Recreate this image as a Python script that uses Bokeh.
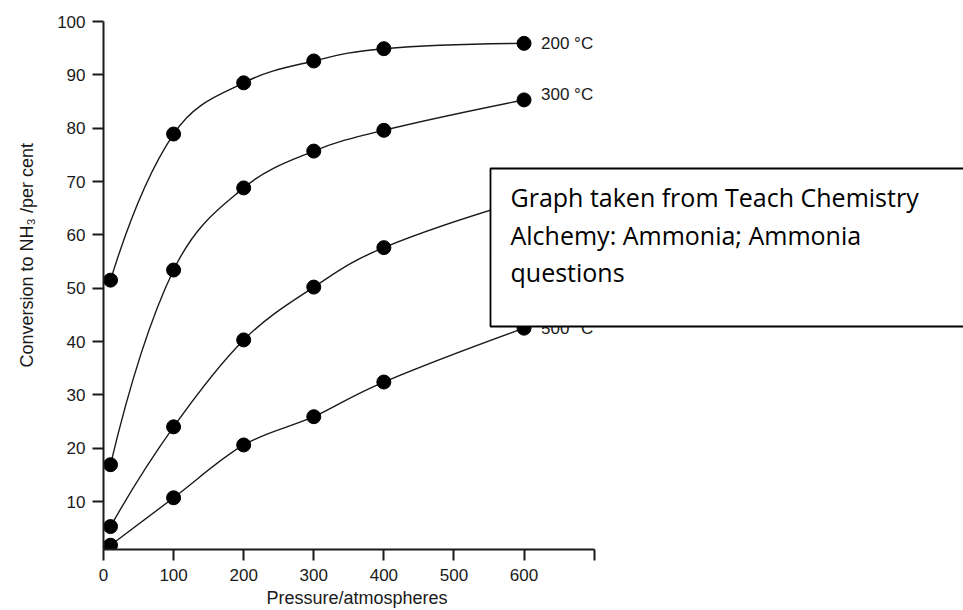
import numpy as np
from bokeh.plotting import figure
from bokeh.models import (Range1d, FixedTicker, BoxAnnotation, Label, Title,
                          ColumnDataSource)
from bokeh.embed import file_html
from bokeh.resources import INLINE
from bokeh.core.properties import value

# ---------------- data ----------------
pressure = [10, 100, 200, 300, 400, 600]
conv_200 = [51.5, 78.9, 88.5, 92.6, 94.9, 95.9]
conv_300 = [16.9, 53.4, 68.8, 75.7, 79.6, 85.3]
conv_400 = [5.3, 24.0, 40.3, 50.2, 57.6, 66.5]
conv_500 = [1.8, 10.7, 20.6, 25.9, 32.4, 42.5]
series_labels = ["200 \u00b0C", "300 \u00b0C", "400 \u00b0C", "500 \u00b0C"]
x_ticks = [0, 100, 200, 300, 400, 500, 600, 700]
y_ticks = [10, 20, 30, 40, 50, 60, 70, 80, 90, 100]
x_title = "Pressure/atmospheres"
y_title = "Conversion to  NH\u2083 /per cent"
note_lines = ["Graph taken from Teach Chemistry",
              "Alchemy: Ammonia; Ammonia",
              "questions"]

# ---------------- styles ----------------
INK = "#1a1a1a"
LABEL_FONT = "Liberation Sans"
NOTE_FONT = "Open Sans"
label_y_offsets = [0, -5, 0, 0]

p = figure(width=963, height=610, output_backend="svg", toolbar_location=None,
           x_range=Range1d(0, 1227), y_range=Range1d(1, 100),
           min_border_left=102, min_border_right=0, min_border_top=21,
           min_border_bottom=61)
p.outline_line_color = None
p.xgrid.visible = False
p.ygrid.visible = False
p.background_fill_color = "white"

for ax in (p.xaxis[0], p.yaxis[0]):
    ax.axis_line_width = 2
    ax.axis_line_color = INK
    ax.major_tick_line_width = 2
    ax.major_tick_line_color = INK
    ax.major_tick_out = 11
    ax.major_tick_in = 0
    ax.minor_tick_line_color = None
    ax.major_label_text_font = LABEL_FONT
    ax.major_label_text_font_size = "17px"
    ax.major_label_text_color = INK

p.xaxis[0].ticker = FixedTicker(ticks=x_ticks)
p.xaxis[0].major_label_overrides = {700: ""}
p.xaxis[0].bounds = (0, 700)
p.xaxis[0].major_label_standoff = 8
p.yaxis[0].ticker = FixedTicker(ticks=y_ticks)
p.yaxis[0].major_label_standoff = 7

# ---------------- curves (Catmull-Rom drawn as cubic Beziers) ----------------
def bezier_parts(xs, ys):
    P = np.column_stack([xs, ys]).astype(float)
    n = len(P)
    T = np.zeros_like(P)
    for i in range(1, n - 1):
        T[i] = (P[i + 1] - P[i - 1]) / 2.0
    T[0] = 2 * (P[1] - P[0]) - T[1]
    T[-1] = 2 * (P[-1] - P[-2]) - T[-2]
    c0 = P[:-1] + T[:-1] / 3.0
    c1 = P[1:] - T[1:] / 3.0
    return dict(x0=P[:-1, 0], y0=P[:-1, 1], x1=P[1:, 0], y1=P[1:, 1],
                cx0=c0[:, 0], cy0=c0[:, 1], cx1=c1[:, 0], cy1=c1[:, 1])

all_series = [conv_200, conv_300, conv_400, conv_500]
for ys in all_series:
    src = ColumnDataSource(bezier_parts(pressure, ys))
    p.bezier(x0="x0", y0="y0", x1="x1", y1="y1", cx0="cx0", cy0="cy0",
             cx1="cx1", cy1="cy1", source=src, line_color=INK, line_width=1.4)

for ys in all_series:
    p.scatter(pressure, ys, size=14, fill_color="black", line_color="black")

# series labels at the right end of each curve
lab_src = ColumnDataSource(dict(x=[pressure[-1]] * 4,
                                y=[s[-1] for s in all_series],
                                t=series_labels,
                                dy=label_y_offsets))
p.text(x="x", y="y", text="t", source=lab_src, x_offset=17, y_offset="dy",
       text_baseline="middle", text_align="left",
       text_font=value(LABEL_FONT), text_font_size="17px", text_color=INK)

# ---------------- note box ----------------
box = BoxAnnotation(left=387, right=900, top=381, bottom=223,
                    left_units="screen", right_units="screen",
                    top_units="screen", bottom_units="screen",
                    fill_color="white", fill_alpha=1.0,
                    line_color="black", line_alpha=1.0, line_width=1.8)
p.add_layout(box)

note_baselines = [353, 314.5, 277.5]
for txt, yb in zip(note_lines, note_baselines):
    p.add_layout(Label(x=407, y=yb, x_units="screen", y_units="screen",
                       text=txt, text_font=NOTE_FONT, text_font_size="25px",
                       text_color="black", text_baseline="alphabetic"))

# ---------------- axis titles (side-panel titles, placed along the axes) ----
p.add_layout(Title(text=x_title, align="left", offset=163, standoff=5,
                   text_font=LABEL_FONT, text_font_size="18px",
                   text_font_style="normal", text_color=INK), "below")
p.add_layout(Title(text=y_title, align="left", offset=182, standoff=32,
                   vertical_align="top",
                   text_font=LABEL_FONT, text_font_size="18px",
                   text_font_style="normal", text_color=INK), "left")

open("out.html", "w").write(file_html(p, INLINE))
